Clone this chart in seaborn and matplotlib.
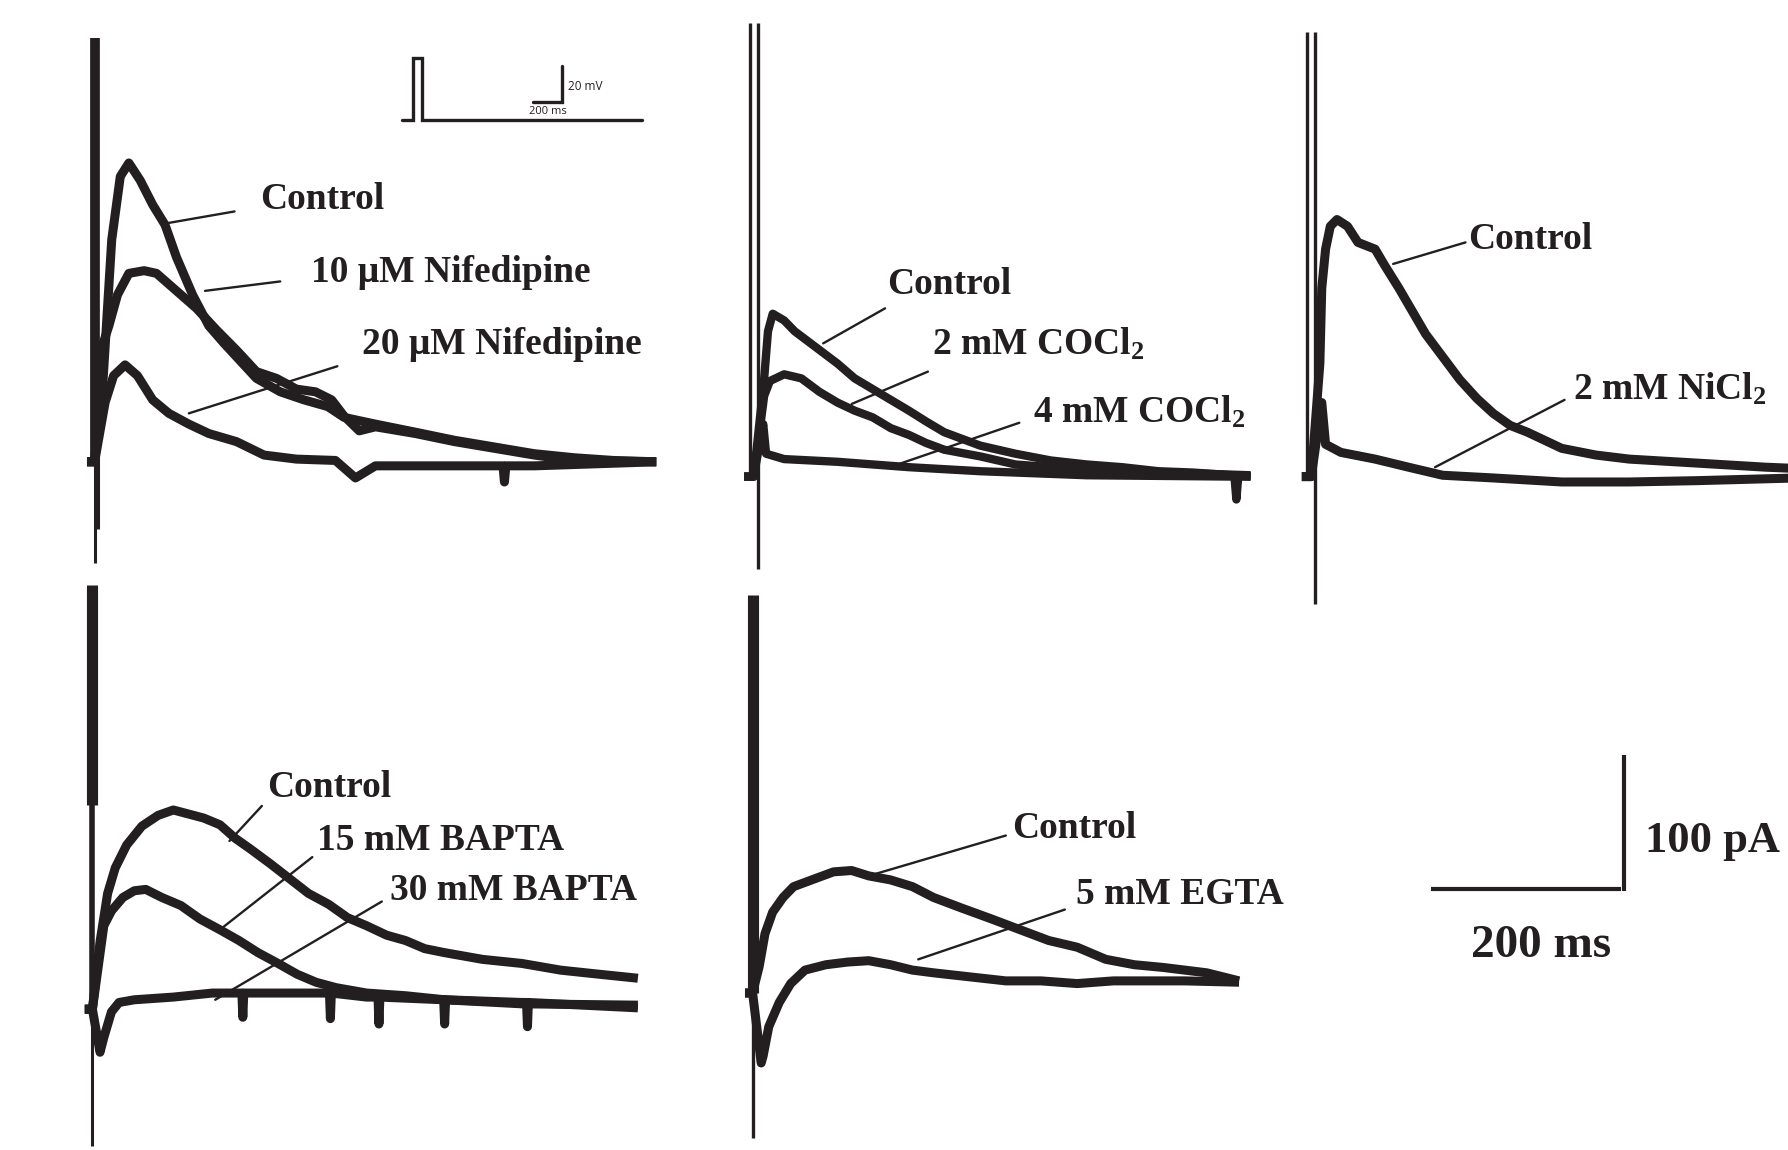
import matplotlib
matplotlib.use('Agg')
import matplotlib.pyplot as plt
import seaborn as sns

sns.set_style('white')
plt.rcParams['font.family'] = ['Liberation Serif', 'DejaVu Serif']
plt.rcParams['mathtext.default'] = 'regular'

INK = '#231f20'
W, H = 1788, 1150
SX, SY = 0.952, 1.346   # pixels per ms, pixels per pA

# ---- panel A: nifedipine (ms, pA) ----
a_ctrl_t = [-8, 0, 9, 18, 27, 36, 48, 61, 74, 86, 103, 120, 136, 153, 170, 195, 220, 245, 262, 295, 337, 378, 420, 462, 504, 545, 590]
a_ctrl_i = [0, 0, 62, 165, 212, 222, 209, 191, 176, 152, 124, 101, 88, 75, 62, 52, 46, 41, 33, 28, 22, 16, 11, 6, 3, 1, 0]
a_n10_t = [-8, 0, 9, 15, 24, 36, 52, 65, 86, 107, 128, 149, 170, 191, 212, 232, 249, 262, 278, 295, 337, 378, 420, 462, 504, 590]
a_n10_i = [0, 0, 88, 101, 124, 140, 142, 140, 127, 114, 98, 83, 67, 62, 54, 52, 46, 34, 23, 26, 21, 15, 10, 5, 1, 0]
a_n20_t = [-8, 0, 11, 20, 32, 45, 61, 78, 99, 120, 149, 178, 212, 253, 274, 295, 337, 378, 429, 430.5, 432, 462, 590]
a_n20_i = [0, 0, 44, 64, 72, 64, 46, 36, 28, 21, 15, 5, 2, 1, -12, -3, -3, -3, -3, -15, -3, -3, 0]

# ---- panel B: cobalt ----
b_ctrl_t = [-10, 0, 11, 15, 20, 32, 43, 58, 73, 88, 106, 125, 144, 163, 181, 200, 219, 238, 275, 312, 350, 387, 425, 462, 522]
b_ctrl_i = [0, 0, 73, 108, 121, 116, 108, 100, 92, 84, 73, 65, 57, 49, 41, 33, 28, 23, 17, 12, 9, 7, 4, 3, 0]
b_co2_t = [-10, 0, 11, 17, 32, 50, 69, 88, 106, 125, 144, 163, 181, 200, 238, 275, 350, 522]
b_co2_i = [0, 0, 60, 71, 76, 73, 63, 55, 49, 44, 36, 31, 25, 20, 15, 9, 5, 1]
b_co4_t = [-10, 0, 10, 13, 32, 88, 163, 238, 350, 505, 507, 509, 522]
b_co4_i = [0, 0, 39, 17, 13, 11, 7, 4, 1, 0, -17, 0, 0]

# ---- panel C: nickel ----
c_ctrl_t = [-10, 0, 9, 11, 15, 20, 27, 38, 49, 67, 77, 92, 106, 120, 138, 156, 174, 191, 209, 227, 245, 263, 299, 334, 406, 477, 511]
c_ctrl_i = [0, 0, 84, 140, 169, 186, 191, 186, 174, 169, 157, 140, 123, 106, 89, 72, 58, 47, 38, 33, 27, 21, 16, 13, 10, 7, 6]
c_ni_t = [-10, 0, 11, 15, 31, 67, 102, 138, 191, 263, 334, 406, 511]
c_ni_i = [0, 0, 55, 24, 18, 13, 7, 1, -1, -4, -4, -3, -1]

# ---- panel D: BAPTA ----
d_ctrl_t = [-8, 0, 8, 16, 24, 36, 52, 69, 85, 101, 117, 134, 150, 166, 187, 207, 227, 248, 268, 288, 309, 329, 349, 370, 410, 451, 492, 532, 573]
d_ctrl_i = [0, 0, 50, 86, 105, 122, 136, 144, 148, 145, 142, 137, 127, 119, 108, 97, 86, 78, 68, 62, 55, 51, 45, 42, 37, 34, 29, 26, 23]
d_b15_t = [-8, 0, 12, 20, 32, 44, 56, 73, 93, 113, 134, 154, 174, 195, 215, 235, 256, 288, 329, 370, 451, 573]
d_b15_i = [0, 0, 62, 73, 83, 88, 89, 83, 77, 67, 59, 51, 42, 34, 26, 20, 16, 12, 10, 7, 4, 3]
d_b30_t = [-8, 0, 8, 12, 20, 28, 44, 85, 126, 157, 158, 159, 207, 249, 250, 251, 288, 300, 301, 302, 369, 370, 371, 451, 456, 457, 458, 573]
d_b30_i = [0, 0, -32, -21, -2, 5, 7, 9, 12, 12, -6, 12, 12, 12, -7, 12, 9, 9, -11, 9, 7, -11, 7, 5, 5, -13, 5, 1]

# ---- panel E: EGTA ----
e_ctrl_t = [-8, 0, 7, 13, 21, 32, 43, 62, 85, 104, 122, 145, 168, 190, 220, 251, 281, 311, 341, 371, 401, 431, 454, 477, 511]
e_ctrl_i = [0, 0, 20, 44, 60, 71, 79, 84, 90, 91, 87, 84, 79, 71, 63, 55, 47, 39, 34, 25, 21, 19, 17, 15, 9]
e_egta_t = [-8, 0, 9, 11, 17, 28, 40, 55, 77, 100, 122, 145, 168, 190, 228, 266, 303, 341, 379, 416, 454, 511]
e_egta_i = [0, 0, -52, -47, -25, -7, 7, 17, 21, 23, 24, 21, 17, 15, 12, 9, 9, 7, 9, 9, 9, 8]

# stimulus artefact extent per panel (pA): top, bottom
art_top = [315, 337, 330, 315, 296]
art_bottom = [-75, -69, -95, -102, -108]

# voltage protocol (ms, mV relative to holding)
step_t = [0, 80, 80, 142, 142, 1655]
step_v = [0, 0, 35, 35, 0, 0]

BAR_MS, BAR_PA = 200, 100
INSET_BAR_MS, INSET_BAR_MV = 200, 20

fig = plt.figure(figsize=(W / 100, H / 100), dpi=100)


def panel(x0, yb, sx=SX, sy=SY, tmin=-40, tmax=640, ymin=-150, ymax=360):
    ax = fig.add_axes([(x0 + tmin * sx) / W, (H - yb + ymin * sy) / H,
                       (tmax - tmin) * sx / W, (ymax - ymin) * sy / H])
    ax.set_xlim(tmin, tmax)
    ax.set_ylim(ymin, ymax)
    ax.axis('off')
    ax.patch.set_alpha(0)
    return ax


def trace(ax, t, i, lw=6.5):
    sns.lineplot(x=t, y=i, ax=ax, color=INK, lw=lw, estimator=None, sort=False,
                 legend=False, solid_joinstyle='round', solid_capstyle='butt')


def label(ax, txt, tx, ty, on, off, size=27):
    ax.annotate('', xy=on, xytext=off,
                arrowprops=dict(arrowstyle='-', color=INK, lw=1.7, shrinkA=0, shrinkB=0))
    ax.text(tx, ty, txt, fontsize=size, fontweight='bold', color=INK, ha='left', va='center')


# A
ax = panel(94.6, 461.8)
ax.vlines(0, 0, art_top[0], color=INK, lw=7)
ax.vlines(0, art_bottom[0], 0, color=INK, lw=2.2)
ax.vlines(4, -50, 60, color=INK, lw=2.2)
trace(ax, a_ctrl_t, a_ctrl_i)
trace(ax, a_n10_t, a_n10_i)
trace(ax, a_n20_t, a_n20_i)
label(ax, 'Control', 174, 195, (74, 177), (147, 186))
label(ax, '10 μM Nifedipine', 227, 141, (116, 127), (195, 134))
label(ax, '20 μM Nifedipine', 281, 87, (99, 36), (255, 71))

# B
ax = panel(753.7, 476.6)
ax.vlines(-4, 0, art_top[1], color=INK, lw=2.4)
ax.vlines(5, art_bottom[1], art_top[1], color=INK, lw=2.4)
trace(ax, b_ctrl_t, b_ctrl_i, lw=6)
trace(ax, b_co2_t, b_co2_i, lw=6)
trace(ax, b_co4_t, b_co4_i, lw=6)
label(ax, 'Control', 140, 143, (73, 99), (138, 125))
label(ax, '2 mM COCl$_2$', 187, 98, (103, 54), (183, 78))
label(ax, '4 mM COCl$_2$', 293, 48, (147, 8), (279, 40))

# C
ax = panel(1311.3, 476.6)
ax.vlines(-5, 0, art_top[2], color=INK, lw=2.4)
ax.vlines(4, art_bottom[2], art_top[2], color=INK, lw=2.4)
trace(ax, c_ctrl_t, c_ctrl_i)
trace(ax, c_ni_t, c_ni_i)
label(ax, 'Control', 165, 176, (86, 158), (162, 174))
label(ax, '2 mM NiCl$_2$', 275, 65, (130, 7), (266, 57))

# D
ax = panel(92.4, 1009.2)
ax.vlines(0, 152, art_top[3], color=INK, lw=8)
ax.vlines(0, 0, 152, color=INK, lw=4)
ax.vlines(0, art_bottom[3], 0, color=INK, lw=2.2)
trace(ax, d_ctrl_t, d_ctrl_i)
trace(ax, d_b15_t, d_b15_i)
trace(ax, d_b30_t, d_b30_i)
label(ax, 'Control', 184, 165, (144, 125), (178, 151))
label(ax, '15 mM BAPTA', 236, 125, (132, 58), (231, 113))
label(ax, '30 mM BAPTA', 313, 88, (129, 7), (304, 80))

# E
ax = panel(752.6, 993.0)
ax.vlines(0, 0, art_top[4], color=INK, lw=8)
ax.vlines(0, art_bottom[4], 0, color=INK, lw=2.4)
trace(ax, e_ctrl_t, e_ctrl_i)
trace(ax, e_egta_t, e_egta_i)
label(ax, 'Control', 273, 122, (122, 87), (266, 117))
label(ax, '5 mM EGTA', 340, 73, (174, 25), (328, 62))

# scale bar
ax = panel(1431.1, 889.4, tmin=-20, tmax=420, ymin=-100, ymax=150)
ax.plot([0, BAR_MS], [0, 0], color=INK, lw=3, solid_capstyle='butt')
ax.plot([BAR_MS + 3, BAR_MS + 3], [-1.5, BAR_PA], color=INK, lw=3, solid_capstyle='butt')
ax.text(225, 36, f'{BAR_PA} pA', fontsize=32, fontweight='bold', color=INK, ha='left', va='center')
ax.text(115, -42, f'{BAR_MS} ms', fontsize=34, fontweight='bold', color=INK, ha='center', va='center')

# voltage protocol inset
ins = panel(401.7, 120, sx=0.145, sy=1.785, tmin=-50, tmax=1800, ymin=-10, ymax=45)
sns.lineplot(x=step_t, y=step_v, ax=ins, color=INK, lw=2.4, estimator=None, sort=False,
             legend=False, solid_joinstyle='miter')
ins.plot([1108 - INSET_BAR_MS, 1108, 1108], [10.3, 10.3, 10.3 + INSET_BAR_MV],
         color=INK, lw=2.4, solid_joinstyle='miter')
ins.text(1150, 18.7, f'{INSET_BAR_MV} mV', fontsize=8.5, family=['Open Sans', 'DejaVu Sans'],
         color=INK, ha='left', va='center')
ins.text(1010, 4.5, f'{INSET_BAR_MS} ms', fontsize=8, family=['Open Sans', 'DejaVu Sans'],
         color=INK, ha='center', va='center')

fig.savefig('out.png', dpi=100, facecolor='white')
